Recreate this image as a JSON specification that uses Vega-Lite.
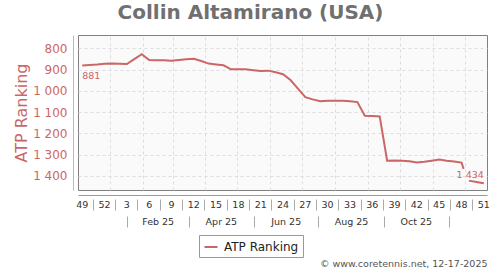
{
  "$schema": "https://vega.github.io/schema/vega-lite/v6.json",
  "width": 409,
  "height": 155,
  "autosize": {"type": "none"},
  "padding": {"left": 78, "top": 35, "right": 13, "bottom": 80},
  "background": "white",
  "config": {
    "font": "DejaVu Sans",
    "view": {"fill": "#fafafa", "stroke": "#808080", "strokeWidth": 1}
  },
  "title": {
    "text": "Collin Altamirano (USA)",
    "font": "DejaVu Sans",
    "fontSize": 20,
    "fontWeight": "bold",
    "color": "#707070",
    "anchor": "middle",
    "frame": "group",
    "baseline": "alphabetic",
    "offset": 14,
    "dx": -32,
    "dy": 18
  },
  "data": {
    "values": [
      {"date": "2024-12-06", "rank": 881, "lbl": "881"},
      {"date": "2024-12-13", "rank": 878},
      {"date": "2024-12-20", "rank": 876},
      {"date": "2024-12-27", "rank": 873},
      {"date": "2025-01-03", "rank": 872},
      {"date": "2025-01-10", "rank": 873},
      {"date": "2025-01-17", "rank": 874},
      {"date": "2025-01-24", "rank": 851},
      {"date": "2025-01-31", "rank": 828},
      {"date": "2025-02-07", "rank": 855},
      {"date": "2025-02-14", "rank": 856},
      {"date": "2025-02-21", "rank": 856},
      {"date": "2025-02-28", "rank": 858},
      {"date": "2025-03-07", "rank": 855},
      {"date": "2025-03-14", "rank": 852},
      {"date": "2025-03-21", "rank": 849},
      {"date": "2025-03-28", "rank": 860},
      {"date": "2025-04-04", "rank": 872},
      {"date": "2025-04-11", "rank": 876},
      {"date": "2025-04-18", "rank": 880},
      {"date": "2025-04-25", "rank": 899},
      {"date": "2025-05-02", "rank": 899},
      {"date": "2025-05-09", "rank": 899},
      {"date": "2025-05-16", "rank": 903},
      {"date": "2025-05-23", "rank": 907},
      {"date": "2025-05-30", "rank": 905},
      {"date": "2025-06-06", "rank": 913},
      {"date": "2025-06-13", "rank": 922},
      {"date": "2025-06-20", "rank": 949},
      {"date": "2025-06-27", "rank": 990},
      {"date": "2025-07-04", "rank": 1030},
      {"date": "2025-07-11", "rank": 1040},
      {"date": "2025-07-18", "rank": 1049},
      {"date": "2025-07-25", "rank": 1047},
      {"date": "2025-08-01", "rank": 1046},
      {"date": "2025-08-08", "rank": 1047},
      {"date": "2025-08-15", "rank": 1049},
      {"date": "2025-08-22", "rank": 1053},
      {"date": "2025-08-29", "rank": 1117},
      {"date": "2025-09-05", "rank": 1118},
      {"date": "2025-09-12", "rank": 1120},
      {"date": "2025-09-19", "rank": 1328},
      {"date": "2025-09-26", "rank": 1327},
      {"date": "2025-10-03", "rank": 1328},
      {"date": "2025-10-10", "rank": 1331},
      {"date": "2025-10-17", "rank": 1337},
      {"date": "2025-10-24", "rank": 1333},
      {"date": "2025-10-31", "rank": 1328},
      {"date": "2025-11-07", "rank": 1323},
      {"date": "2025-11-14", "rank": 1328},
      {"date": "2025-11-21", "rank": 1332},
      {"date": "2025-11-28", "rank": 1337},
      {"date": "2025-11-30", "rank": 1367},
      {"date": "2025-12-02", "rank": null},
      {"date": "2025-12-05", "rank": 1422},
      {"date": "2025-12-12", "rank": 1428},
      {"date": "2025-12-19", "rank": 1434, "lbl": "1 434"}
    ]
  },
  "encoding": {
    "y": {
      "field": "rank", "type": "quantitative",
      "scale": {"domain": [737.5, 1466], "reverse": true, "nice": false, "zero": false},
      "axis": {
        "orient": "left", "offset": 5,
        "values": [800, 900, 1000, 1100, 1200, 1300, 1400],
        "labelExpr": "replace(format(datum.value, ','), ',', ' ')",
        "labelFont": "DejaVu Sans", "labelFontSize": 12, "labelColor": "#cc6666", "labelPadding": 6,
        "ticks": false, "tickSize": 0,
        "domain": true, "domainColor": "#e0aaaa",
        "grid": true, "gridDash": [3, 3], "gridColor": "#dddddd",
        "title": "ATP Ranking", "titleFont": "DejaVu Sans", "titleFontSize": 16, "titleFontWeight": "normal",
        "titleColor": "#cc6666", "titlePadding": 3
      }
    }
  },
  "resolve": {"axis": {"x": "independent", "y": "shared"}},
  "layer": [
    {
      "mark": {"type": "line", "color": "#cc6666", "strokeWidth": 2, "invalid": "break-paths-show-domains"},
      "encoding": {
        "x": {
          "field": "date", "type": "temporal",
          "scale": {"type": "utc", "nice": false, "domain": [{"year": 2024, "month": 12, "date": 2, "utc": true}, {"year": 2025, "month": 12, "date": 22, "utc": true}]},
          "axis": {
            "orient": "bottom", "offset": 5, "title": null,
            "labels": false, "ticks": false, "tickSize": 0,
            "domain": true, "domainColor": "#999999",
            "grid": true, "gridDash": [3, 3], "gridColor": "#dddddd",
            "values": [
              {"year": 2025, "month": 1, "date": 1, "utc": true},
              {"year": 2025, "month": 2, "date": 1, "utc": true},
              {"year": 2025, "month": 3, "date": 1, "utc": true},
              {"year": 2025, "month": 4, "date": 1, "utc": true},
              {"year": 2025, "month": 5, "date": 1, "utc": true},
              {"year": 2025, "month": 6, "date": 1, "utc": true},
              {"year": 2025, "month": 7, "date": 1, "utc": true},
              {"year": 2025, "month": 8, "date": 1, "utc": true},
              {"year": 2025, "month": 9, "date": 1, "utc": true},
              {"year": 2025, "month": 10, "date": 1, "utc": true},
              {"year": 2025, "month": 11, "date": 1, "utc": true},
              {"year": 2025, "month": 12, "date": 1, "utc": true}
            ]
          }
        },
        "color": {
          "datum": "ATP Ranking",
          "scale": {"range": ["#cc6666"]},
          "legend": {
            "title": null, "orient": "none", "legendX": 121, "legendY": 200,
            "strokeColor": "#999999", "fillColor": "white", "padding": 4,
            "labelFont": "DejaVu Sans", "labelFontSize": 12, "labelColor": "#222222", "labelOffset": 5,
            "symbolType": "stroke", "symbolSize": 170, "symbolStrokeWidth": 2
          }
        }
      }
    },
    {
      "transform": [{"filter": "datum.lbl == '881'"}],
      "mark": {"type": "text", "align": "left", "baseline": "top", "dy": 5, "fontSize": 9.5, "color": "#cc6666"},
      "encoding": {
        "x": {
          "field": "date", "type": "temporal",
          "scale": {"type": "utc", "nice": false, "domain": [{"year": 2024, "month": 12, "date": 2, "utc": true}, {"year": 2025, "month": 12, "date": 22, "utc": true}]},
          "axis": {
            "orient": "bottom", "offset": 5, "title": null,
            "domain": false, "ticks": false, "tickSize": 0, "grid": false,
            "labelPadding": 4, "labelFont": "DejaVu Sans", "labelFontSize": 9.5, "labelColor": "#333333",
            "labelExpr": "utcFormat(datum.value, '%-V')", "labelOverlap": false,
            "values": [
              {"year": 2024, "month": 12, "date": 5, "hours": 12, "utc": true},
              {"year": 2024, "month": 12, "date": 26, "hours": 12, "utc": true},
              {"year": 2025, "month": 1, "date": 16, "hours": 12, "utc": true},
              {"year": 2025, "month": 2, "date": 6, "hours": 12, "utc": true},
              {"year": 2025, "month": 2, "date": 27, "hours": 12, "utc": true},
              {"year": 2025, "month": 3, "date": 20, "hours": 12, "utc": true},
              {"year": 2025, "month": 4, "date": 10, "hours": 12, "utc": true},
              {"year": 2025, "month": 5, "date": 1, "hours": 12, "utc": true},
              {"year": 2025, "month": 5, "date": 22, "hours": 12, "utc": true},
              {"year": 2025, "month": 6, "date": 12, "hours": 12, "utc": true},
              {"year": 2025, "month": 7, "date": 3, "hours": 12, "utc": true},
              {"year": 2025, "month": 7, "date": 24, "hours": 12, "utc": true},
              {"year": 2025, "month": 8, "date": 14, "hours": 12, "utc": true},
              {"year": 2025, "month": 9, "date": 4, "hours": 12, "utc": true},
              {"year": 2025, "month": 9, "date": 25, "hours": 12, "utc": true},
              {"year": 2025, "month": 10, "date": 16, "hours": 12, "utc": true},
              {"year": 2025, "month": 11, "date": 6, "hours": 12, "utc": true},
              {"year": 2025, "month": 11, "date": 27, "hours": 12, "utc": true},
              {"year": 2025, "month": 12, "date": 18, "hours": 12, "utc": true}
            ]
          }
        },
        "text": {"field": "lbl"}
      }
    },
    {
      "transform": [{"filter": "datum.lbl == '1 434'"}],
      "mark": {"type": "text", "align": "right", "baseline": "alphabetic", "dy": -5, "fontSize": 9.5, "color": "#cc6666"},
      "encoding": {
        "x": {
          "field": "date", "type": "temporal",
          "scale": {"type": "utc", "nice": false, "domain": [{"year": 2024, "month": 12, "date": 2, "utc": true}, {"year": 2025, "month": 12, "date": 22, "utc": true}]},
          "axis": {
            "orient": "bottom", "offset": 9, "title": null,
            "domain": false, "labels": false, "grid": false,
            "ticks": true, "tickSize": 11, "tickColor": "#aaaaaa", "tickWidth": 1,
            "values": [
              {"year": 2024, "month": 12, "date": 16, "utc": true},
              {"year": 2025, "month": 1, "date": 6, "utc": true},
              {"year": 2025, "month": 1, "date": 27, "utc": true},
              {"year": 2025, "month": 2, "date": 17, "utc": true},
              {"year": 2025, "month": 3, "date": 10, "utc": true},
              {"year": 2025, "month": 3, "date": 31, "utc": true},
              {"year": 2025, "month": 4, "date": 21, "utc": true},
              {"year": 2025, "month": 5, "date": 12, "utc": true},
              {"year": 2025, "month": 6, "date": 2, "utc": true},
              {"year": 2025, "month": 6, "date": 23, "utc": true},
              {"year": 2025, "month": 7, "date": 14, "utc": true},
              {"year": 2025, "month": 8, "date": 4, "utc": true},
              {"year": 2025, "month": 8, "date": 25, "utc": true},
              {"year": 2025, "month": 9, "date": 15, "utc": true},
              {"year": 2025, "month": 10, "date": 6, "utc": true},
              {"year": 2025, "month": 10, "date": 27, "utc": true},
              {"year": 2025, "month": 11, "date": 17, "utc": true},
              {"year": 2025, "month": 12, "date": 8, "utc": true}
            ]
          }
        },
        "text": {"field": "lbl"}
      }
    },
    {
      "mark": {"type": "point", "opacity": 0},
      "encoding": {
        "x": {
          "field": "date", "type": "temporal",
          "scale": {"type": "utc", "nice": false, "domain": [{"year": 2024, "month": 12, "date": 2, "utc": true}, {"year": 2025, "month": 12, "date": 22, "utc": true}]},
          "axis": {
            "orient": "bottom", "offset": 24, "title": null,
            "domain": false, "ticks": false, "tickSize": 0, "grid": false,
            "labelPadding": 2, "labelFont": "DejaVu Sans", "labelFontSize": 9.5, "labelColor": "#333333",
            "labelExpr": "utcFormat(datum.value, '%b %y')", "labelOverlap": false,
            "values": [
              {"year": 2025, "month": 2, "date": 15, "utc": true},
              {"year": 2025, "month": 4, "date": 15, "hours": 12, "utc": true},
              {"year": 2025, "month": 6, "date": 15, "hours": 12, "utc": true},
              {"year": 2025, "month": 8, "date": 16, "utc": true},
              {"year": 2025, "month": 10, "date": 16, "utc": true}
            ]
          }
        }
      }
    },
    {
      "mark": {"type": "point", "opacity": 0},
      "encoding": {
        "x": {
          "field": "date", "type": "temporal",
          "scale": {"type": "utc", "nice": false, "domain": [{"year": 2024, "month": 12, "date": 2, "utc": true}, {"year": 2025, "month": 12, "date": 22, "utc": true}]},
          "axis": {
            "orient": "bottom", "offset": 26,
            "domain": false, "labels": false, "grid": false,
            "ticks": true, "tickSize": 11, "tickColor": "#aaaaaa", "tickWidth": 1,
            "values": [
              {"year": 2025, "month": 1, "date": 17, "utc": true},
              {"year": 2025, "month": 3, "date": 16, "hours": 12, "utc": true},
              {"year": 2025, "month": 5, "date": 16, "hours": 12, "utc": true},
              {"year": 2025, "month": 7, "date": 16, "utc": true},
              {"year": 2025, "month": 9, "date": 16, "utc": true},
              {"year": 2025, "month": 11, "date": 16, "utc": true}
            ],
            "title": "© www.coretennis.net, 12-17-2025",
            "titleFont": "DejaVu Sans", "titleFontSize": 9.5, "titleFontWeight": "normal", "titleColor": "#555555",
            "titleAnchor": "end", "titleAlign": "right", "titleBaseline": "top", "titlePadding": 31
          }
        }
      }
    }
  ]
}
